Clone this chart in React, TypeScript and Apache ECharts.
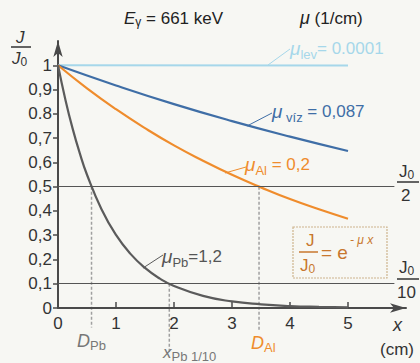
import React, { useEffect, useRef } from "react";
import * as echarts from "echarts";

// thickness x (cm)
const xPb = [0, 0.125, 0.25, 0.375, 0.5, 0.75, 1, 1.25, 1.5, 1.75, 2, 2.5, 3, 3.5, 4, 4.5, 5];
const yPb = [1, 0.861, 0.741, 0.638, 0.549, 0.407, 0.301, 0.223, 0.165, 0.122, 0.091, 0.05, 0.027, 0.015, 0.008, 0.0045, 0.0025];
const xAl = [0, 0.5, 1, 1.5, 2, 2.5, 3, 3.5, 4, 4.5, 5];
const yAl = [1, 0.905, 0.819, 0.741, 0.67, 0.607, 0.549, 0.497, 0.449, 0.407, 0.368];
const xViz = [0, 1, 2, 3, 4, 5];
const yViz = [1, 0.917, 0.84, 0.77, 0.706, 0.647];
const xLev = [0, 5];
const yLev = [1, 0.9995];

const xTicks = [0, 1, 2, 3, 4, 5];
const yTicks = [0, 0.1, 0.2, 0.3, 0.4, 0.5, 0.6, 0.7, 0.8, 0.9, 1];
const yTickLabels = ["0", "0,1", "0,2", "0,3", "0,4", "0,5", "0,6", "0,7", "0.8", "0,9", "1"];

const refLevels = [0.5, 0.1];
const halfX = [0.578, 3.466]; // D_Pb, D_Al
const tenthX = 1.919; // x_Pb 1/10

const FONT = "Liberation Sans, Arial, sans-serif";
const C_LEV = "#a6d7ea";
const C_VIZ = "#3f6ea6";
const C_AL = "#ef8c2c";
const C_PB = "#5b5b5b";
const C_AX = "#4a4a4a";

const pairs = (xs: number[], ys: number[]) => xs.map((x, i) => [x, ys[i]]);

function txt(x: number, y: number, text: string, fill: string, size: number, rich?: any, extra?: any) {
  return {
    type: "text",
    x,
    y,
    style: {
      text,
      fill,
      fontSize: size,
      fontFamily: FONT,
      verticalAlign: "middle",
      rich,
      ...(extra || {}),
    },
  };
}
function ln(x1: number, y1: number, x2: number, y2: number, stroke: string, w = 1, dash?: number[]) {
  return { type: "line", shape: { x1, y1, x2, y2 }, style: { stroke, lineWidth: w, lineDash: dash } };
}

export default function App() {
  const ref = useRef<HTMLDivElement>(null);
  useEffect(() => {
    document.body.style.margin = "0";
    const chart = echarts.init(ref.current!, undefined, { renderer: "svg" });
    const subRich = (color: string) => ({
      mu: { fontSize: 19, fontStyle: "italic", fill: color, fontFamily: FONT },
      sub: { fontSize: 13, fill: color, fontFamily: FONT, padding: [12, 0, 0, 0] },
      n: { fontSize: 17, fill: color, fontFamily: FONT },
    });
    const graphics: any[] = [
      // J/J0 axis title
      txt(16, 37, "J", "#333", 17, undefined, { fontStyle: "italic" }),
      ln(11, 47, 31, 47, "#333", 1.5),
      txt(12, 58, "{a|J}{b|0}", "#333", 17, { a: { fontSize: 17, fontStyle: "italic", fill: "#333" }, b: { fontSize: 12, fill: "#333", padding: [8, 0, 0, 0] } }),
      // title
      txt(124, 18, "{e|E}{g|γ}{t| = 661 keV}", "#222", 17, {
        e: { fontSize: 17, fontStyle: "italic", fill: "#222", fontFamily: FONT },
        g: { fontSize: 12, fill: "#222", fontFamily: FONT, padding: [8, 0, 0, 0] },
        t: { fontSize: 17, fill: "#222", fontFamily: FONT },
      }),
      txt(300, 18, "{m|μ}{t| (1/cm)}", "#222", 17, {
        m: { fontSize: 18, fontStyle: "italic", fill: "#222", fontFamily: FONT },
        t: { fontSize: 17, fill: "#222", fontFamily: FONT },
      }),
      // curve labels
      ln(290, 49, 268, 65, C_LEV, 1),
      txt(290, 48, "{mu|μ}{sub|lev}{n|= 0.0001}", C_LEV, 17, subRich(C_LEV)),
      ln(272, 113, 247, 126, C_VIZ, 1),
      txt(272, 111, "{mu|μ}{sub| víz}{n| = 0,087}", C_VIZ, 17, subRich(C_VIZ)),
      ln(246, 167, 225, 173, C_AL, 1),
      txt(245, 164, "{mu|μ}{sub|Al}{n| = 0,2}", C_AL, 17, subRich(C_AL)),
      ln(163, 255, 143, 268, C_PB, 1),
      txt(162, 256, "{mu|μ}{sub|Pb}{n|=1,2}", "#555", 17, subRich("#555")),
      // right fractions
      txt(399, 171, "{a|J}{b|0}", "#333", 17, { a: { fontSize: 17, fill: "#333" }, b: { fontSize: 12, fill: "#333", padding: [8, 0, 0, 0] } }),
      ln(397, 182, 419, 182, "#333", 1.5),
      txt(401, 195, "2", "#333", 17),
      txt(399, 267, "{a|J}{b|0}", "#333", 17, { a: { fontSize: 17, fill: "#333" }, b: { fontSize: 12, fill: "#333", padding: [8, 0, 0, 0] } }),
      ln(397, 279, 419, 279, "#333", 1.5),
      txt(397, 292, "10", "#333", 17),
      // formula box
      { type: "rect", shape: { x: 293, y: 227, width: 94, height: 51 }, style: { fill: "none", stroke: "#cdb48e", lineWidth: 1.2, lineDash: [2, 1] } },
      txt(306, 240, "J", "#c8772e", 17),
      ln(299, 252, 318, 252, "#c8772e", 1.5),
      txt(300, 265, "{a|J}{b|0}", "#c8772e", 17, { a: { fontSize: 17, fill: "#c8772e" }, b: { fontSize: 12, fill: "#c8772e", padding: [8, 0, 0, 0] } }),
      txt(321, 252, "= e", "#c8772e", 19),
      txt(350, 240, "- μ x", "#c8772e", 12, undefined, { fontStyle: "italic" }),
      // bottom labels
      txt(77, 341, "{d|D}{s|Pb}", "#777", 17, { d: { fontSize: 18, fontStyle: "italic", fill: "#777" }, s: { fontSize: 13, fill: "#777", padding: [8, 0, 0, 0] } }),
      txt(163, 352, "{d|x}{s|Pb 1/10}", "#777", 17, { d: { fontSize: 17, fontStyle: "italic", fill: "#777" }, s: { fontSize: 13, fill: "#777", padding: [9, 0, 0, 0] } }),
      txt(251, 343, "{d|D}{s|Al}", C_AL, 17, { d: { fontSize: 18, fontStyle: "italic", fill: C_AL }, s: { fontSize: 13, fill: C_AL, padding: [8, 0, 0, 0] } }),
      txt(393, 325, "x", "#333", 18, undefined, { fontStyle: "italic" }),
      txt(380, 349, "(cm)", "#333", 17),
    ];
    const option: any = {
      animation: false,
      backgroundColor: "#f7f7f3",
      grid: { left: 58, right: 14, top: 41, bottom: 55 },
      xAxis: {
        type: "value",
        min: 0,
        max: 6,
        interval: 1,
        axisLine: { symbol: ["none", "arrow"], symbolSize: [7, 16], lineStyle: { color: C_AX, width: 2 } },
        axisTick: { inside: true, length: 6, customValues: xTicks.slice(1), lineStyle: { color: C_AX, width: 1.5 } },
        axisLabel: { customValues: xTicks, fontSize: 17, color: "#333", fontFamily: FONT, margin: 7 },
        splitLine: { show: false },
      },
      yAxis: {
        type: "value",
        min: 0,
        max: 1.1,
        axisLine: { show: true, symbol: ["none", "arrow"], symbolSize: [7, 16], lineStyle: { color: C_AX, width: 2 } },
        axisTick: { show: true, length: 5, customValues: yTicks, lineStyle: { color: C_AX, width: 1.5 } },
        axisLabel: {
          customValues: yTicks,
          fontSize: 17,
          color: "#333",
          fontFamily: FONT,
          margin: 6,
          formatter: (v: number) => {
            const i = yTicks.findIndex((t) => Math.abs(t - v) < 1e-6);
            return i >= 0 ? yTickLabels[i] : "";
          },
        },
        splitLine: { show: false },
      },
      series: [
        {
          type: "line",
          data: [],
          silent: true,
          markLine: {
            symbol: "none",
            silent: true,
            label: { show: false },
            lineStyle: { color: "#555", width: 1, type: "solid" },
            data: refLevels.map((v) => [{ coord: [0, v] }, { coord: [5.8, v] }]),
          },
        },
        { type: "line", data: pairs(xLev, yLev), showSymbol: false, lineStyle: { color: C_LEV, width: 2 } },
        { type: "line", data: pairs(xViz, yViz), smooth: true, showSymbol: false, lineStyle: { color: C_VIZ, width: 2.2 } },
        { type: "line", data: pairs(xAl, yAl), smooth: true, showSymbol: false, lineStyle: { color: C_AL, width: 2.2 } },
        { type: "line", data: pairs(xPb, yPb), smooth: true, showSymbol: false, lineStyle: { color: C_PB, width: 2.2 } },
      ],
      graphic: graphics,
    };
    chart.setOption(option);
    // vertical drop lines from the curves' half/tenth points, computed through the axes
    const drops: [number, number, number][] = [
      [halfX[0], refLevels[0], -0.08],
      [halfX[1], refLevels[0], -0.09],
      [tenthX, refLevels[1], -0.18],
    ];
    const extra = drops.map(([x, y0, y1]) => {
      const p0 = chart.convertToPixel({ gridIndex: 0 }, [x, y0]) as number[];
      const p1 = chart.convertToPixel({ gridIndex: 0 }, [x, y1]) as number[];
      return { type: "line", z: -1, shape: { x1: p0[0], y1: p0[1], x2: p1[0], y2: p1[1] }, style: { stroke: "#a0a0a0", lineWidth: 1.5, lineDash: [3, 2] } };
    });
    chart.setOption({ graphic: [...graphics, ...extra] });
    return () => chart.dispose();
  }, []);
  return <div ref={ref} style={{ width: 420, height: 363, background: "#f7f7f3" }} />;
}
